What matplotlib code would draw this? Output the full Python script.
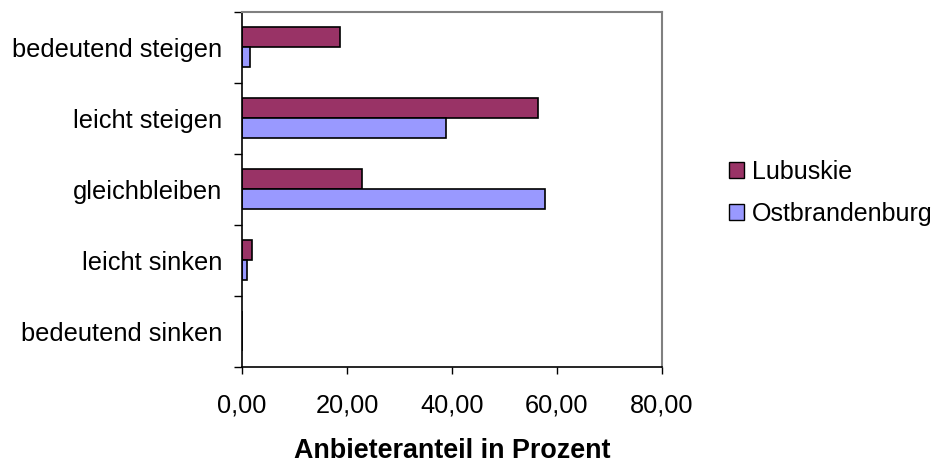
import numpy as np
from matplotlib import pyplot as plt
from matplotlib.patches import Patch

plt.rcParams['font.family'] = ['Liberation Sans', 'DejaVu Sans']

categories = ['bedeutend steigen', 'leicht steigen', 'gleichbleiben',
              'leicht sinken', 'bedeutend sinken']
lubuskie = [18.6, 56.4, 22.9, 1.9, 0.0]
ostbrandenburg = [1.5, 38.8, 57.8, 1.0, 0.0]
xticks = [0, 20, 40, 60, 80]
xtick_labels = ['0,00', '20,00', '40,00', '60,00', '80,00']

c_lub = '#993366'
c_ost = '#9999FF'
fs = 18.3

fig = plt.figure(figsize=(9.37, 4.63), dpi=100)
ax = fig.add_axes([0.2583, 0.208, 0.4482, 0.7667])

# Excel-Stil: 2 Balken pro Kategorie, Abstand 150 %
h = 1 / 3.5
pos = np.arange(len(categories))
ax.barh(pos - h / 2, lubuskie, height=h, color=c_lub, edgecolor='black', linewidth=1.2)
ax.barh(pos + h / 2, ostbrandenburg, height=h, color=c_ost, edgecolor='black', linewidth=1.2)

ax.set_ylim(len(categories) - 0.5, -0.5)
ax.set_xlim(0, 80)
ax.set_yticks(np.arange(len(categories) + 1) - 0.5)
ax.set_yticklabels([])
ax.set_yticks(pos, minor=True)
ax.set_yticklabels(categories, minor=True, fontsize=fs)
ax.tick_params(axis='y', which='minor', length=0, pad=14.5)
ax.tick_params(axis='y', which='major', length=6, width=1)

ax.set_xticks(xticks)
ax.set_xticklabels(xtick_labels, fontsize=fs)
ax.tick_params(axis='x', length=5, width=1, pad=14)

for s in ['top', 'right']:
    ax.spines[s].set_color('#808080')
    ax.spines[s].set_linewidth(1.5)
for s in ['left', 'bottom']:
    ax.spines[s].set_color('black')
    ax.spines[s].set_linewidth(1.2)

ax.set_xlabel('Anbieteranteil in Prozent', fontsize=19.4, fontweight='bold', labelpad=15)

handles = [Patch(facecolor=c_lub, edgecolor='black'),
           Patch(facecolor=c_ost, edgecolor='black')]
fig.legend(handles, ['Lubuskie', 'Ostbrandenburg'], loc='center left',
           bbox_to_anchor=(0.7535, 0.583), frameon=False, fontsize=18,
           handlelength=0.6, handleheight=0.6, handletextpad=0.32,
           labelspacing=0.72)

plt.savefig('out.png', dpi=100)
